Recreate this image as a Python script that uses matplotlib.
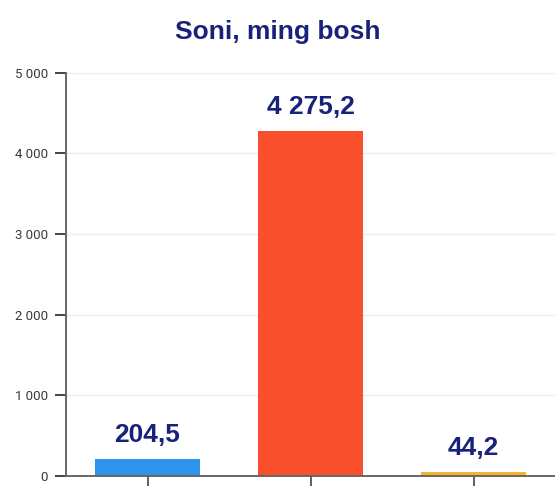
import matplotlib.pyplot as plt
from matplotlib.ticker import FuncFormatter, MultipleLocator

# production volume, thousand heads
categories = ["A", "B", "C"]
values = [204.5, 4275.2, 44.2]
colors = ["#2f95ec", "#f94f2c", "#f6b42d"]

title = "Soni, ming bosh"
navy = "#18227a"


def fmt_value(v):
    return f"{v:,.1f}".replace(",", " ").replace(".", ",")


def fmt_tick(v, pos):
    return f"{int(v):,}".replace(",", " ")


def main():
    fig = plt.figure(figsize=(5.55, 4.86), dpi=100)
    ax = fig.add_axes([0.119, 0.021, 0.881, 0.829])

    x = range(len(categories))
    bars = ax.bar(x, values, width=0.64, color=colors, zorder=2)

    for rect, v in zip(bars, values):
        ax.annotate(fmt_value(v), (rect.get_x() + rect.get_width() / 2, rect.get_height()),
                    xytext=(0, 9), textcoords="offset points", ha="center", va="bottom",
                    fontsize=19, fontweight="bold", color=navy, family="Liberation Sans")

    ax.set_xlim(-0.5, len(categories) - 0.5)
    ax.set_ylim(0, 5000)
    ax.yaxis.set_major_locator(MultipleLocator(1000))
    ax.yaxis.set_major_formatter(FuncFormatter(fmt_tick))
    ax.set_xticks(list(x))
    ax.set_xticklabels([])

    ax.grid(axis="y", color="#ececec", linewidth=1, zorder=0)
    for side in ("top", "right"):
        ax.spines[side].set_visible(False)
    for side in ("left", "bottom"):
        ax.spines[side].set_color("#666666")
        ax.spines[side].set_linewidth(1.4)
    ax.tick_params(axis="y", length=8, width=1.4, color="#444444", labelsize=9.5,
                   labelcolor="#3a3a3a", pad=5)
    ax.tick_params(axis="x", length=7, width=1.2, color="#444444")
    for lbl in ax.get_yticklabels():
        lbl.set_family("Roboto")

    fig.text(0.5, 0.935, title, ha="center", va="center", fontsize=19,
             fontweight="bold", color=navy, family="Liberation Sans")

    fig.savefig("out.png", dpi=100)


if __name__ == "__main__":
    main()
